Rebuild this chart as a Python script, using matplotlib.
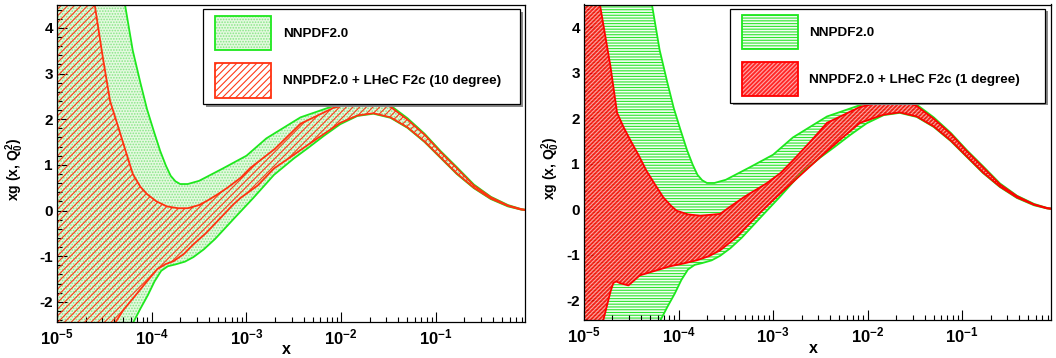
import numpy as np
import matplotlib
matplotlib.use('Agg')
import matplotlib.pyplot as plt
from matplotlib.patches import Rectangle
from matplotlib.ticker import FixedLocator, MultipleLocator, NullFormatter

plt.rcParams['font.family'] = ['Liberation Sans', 'DejaVu Sans']
plt.rcParams['font.weight'] = 'bold'
plt.rcParams['mathtext.fontset'] = 'custom'
plt.rcParams['mathtext.rm'] = 'Liberation Sans:bold'
plt.rcParams['mathtext.it'] = 'Liberation Sans:bold'
plt.rcParams['mathtext.bf'] = 'Liberation Sans:bold'
plt.rcParams['axes.unicode_minus'] = False
plt.rcParams['hatch.linewidth'] = 0.8

# ---------------- data (log10 x, xg) ----------------
gu_lx = [-5.0, -4.6, -4.4, -4.28, -4.20, -4.12, -4.05, -3.98, -3.91, -3.85, -3.80, -3.75, -3.70, -3.62,
         -3.50, -3.25, -3.00, -2.79, -2.43, -2.08, -1.85, -1.65, -1.48, -1.30, -1.12, -0.95, -0.78,
         -0.60, -0.42, -0.24, -0.10, 0.0]
gu_y = [13.0, 8.6, 6.0, 4.48, 3.50, 2.80, 2.22, 1.75, 1.30, 0.98, 0.76, 0.64, 0.58, 0.58,
        0.65, 0.92, 1.20, 1.58, 2.04, 2.29, 2.40, 2.43, 2.30, 2.02, 1.68, 1.30, 0.95,
        0.57, 0.30, 0.12, 0.03, 0.0]

gl_lx = [-5.0, -4.6, -4.4, -4.20, -4.12, -4.04, -3.97, -3.90, -3.83, -3.75, -3.65, -3.56, -3.45, -3.33,
         -3.12, -2.93, -2.71, -2.50, -2.35, -2.18, -2.01, -1.83, -1.66, -1.48, -1.30, -1.12, -0.95,
         -0.78, -0.60, -0.42, -0.24, -0.10, 0.0]
gl_y = [-7.0, -4.6, -3.4, -2.47, -2.15, -1.85, -1.55, -1.32, -1.22, -1.18, -1.12, -1.02, -0.85, -0.62,
        -0.15, 0.27, 0.78, 1.14, 1.37, 1.64, 1.89, 2.07, 2.12, 2.03, 1.81, 1.50, 1.15,
        0.80, 0.49, 0.25, 0.09, 0.02, 0.0]

# NNPDF2.0 + LHeC F2c (10 degree)
r10u_lx = [-5.0, -4.8, -4.60, -4.52, -4.44, -4.33, -4.20, -4.12, -4.05, -3.95, -3.84, -3.72, -3.62,
           -3.50, -3.41, -3.30, -3.20, -3.06, -2.96, -2.70, -2.43, -2.08, -1.85, -1.65, -1.48,
           -1.30, -1.12, -0.95, -0.78, -0.60, -0.42, -0.24, -0.10, 0.0]
r10u_y = [9.5, 7.0, 4.48, 3.40, 2.40, 1.67, 0.80, 0.52, 0.36, 0.20, 0.09, 0.05, 0.05,
          0.12, 0.22, 0.36, 0.50, 0.72, 0.93, 1.35, 1.90, 2.25, 2.36, 2.39, 2.27,
          1.99, 1.66, 1.28, 0.93, 0.55, 0.29, 0.11, 0.03, 0.0]
r10l_lx = [-5.0, -4.6, -4.39, -4.30, -4.20, -4.05, -3.94, -3.85, -3.77, -3.66, -3.56, -3.43, -3.31,
           -3.14, -3.06, -2.88, -2.71, -2.50, -2.35, -2.01, -1.83, -1.66, -1.48, -1.30, -1.12,
           -0.95, -0.78, -0.60, -0.42, -0.24, -0.10, 0.0]
r10l_y = [-4.8, -3.3, -2.47, -2.18, -1.93, -1.55, -1.28, -1.17, -1.11, -0.95, -0.74, -0.50, -0.24,
          0.13, 0.28, 0.55, 0.92, 1.22, 1.44, 1.92, 2.08, 2.13, 2.04, 1.82, 1.51,
          1.16, 0.81, 0.50, 0.26, 0.10, 0.02, 0.0]

# NNPDF2.0 + LHeC F2c (1 degree)
r1u_lx = [-5.0, -4.90, -4.83, -4.72, -4.65, -4.58, -4.51, -4.42, -4.34, -4.25, -4.16, -4.08, -4.02,
          -3.90, -3.77, -3.56, -3.46, -3.30, -3.07, -2.92, -2.77, -2.60, -2.43, -2.08, -1.85,
          -1.65, -1.48, -1.30, -1.12, -0.95, -0.78, -0.60, -0.42, -0.24, -0.10, 0.0]
r1u_y = [7.5, 5.8, 4.48, 3.14, 2.12, 1.80, 1.52, 1.18, 0.85, 0.55, 0.26, 0.08, -0.03,
         -0.11, -0.14, -0.10, 0.05, 0.28, 0.57, 0.80, 1.12, 1.50, 1.90, 2.25, 2.36,
         2.39, 2.27, 1.99, 1.66, 1.28, 0.93, 0.55, 0.29, 0.11, 0.03, 0.0]
r1l_lx = [-5.0, -4.86, -4.80, -4.72, -4.69, -4.66, -4.62, -4.53, -4.41, -4.25, -4.09, -3.95, -3.81,
          -3.68, -3.56, -3.38, -3.14, -2.95, -2.79, -2.50, -2.28, -2.08, -1.83, -1.66, -1.48,
          -1.30, -1.12, -0.95, -0.78, -0.60, -0.42, -0.24, -0.10, 0.0]
r1l_y = [-4.5, -3.3, -2.47, -1.81, -1.62, -1.58, -1.62, -1.67, -1.45, -1.35, -1.25, -1.19, -1.12,
         -1.03, -0.90, -0.60, -0.08, 0.30, 0.60, 1.15, 1.55, 1.90, 2.08, 2.13, 2.04,
         1.82, 1.51, 1.16, 0.81, 0.50, 0.26, 0.10, 0.02, 0.0]

xtick_vals = [1e-5, 1e-4, 1e-3, 1e-2, 1e-1]
xtick_labels = ['$10^{-5}$', '$10^{-4}$', '$10^{-3}$', '$10^{-2}$', '$10^{-1}$']
ytick_vals = [-2, -1, 0, 1, 2, 3, 4]
label_base = 'NNPDF2.0'
label_10 = 'NNPDF2.0 + LHeC F2c (10 degree)'
label_1 = 'NNPDF2.0 + LHeC F2c (1 degree)'

# ---------------- figure ----------------
W, H = 1056, 358
fig = plt.figure(figsize=(W / 100, H / 100), dpi=100)


def frect(px0, py0, px1, py1):
    return [px0 / W, 1 - py1 / H, (px1 - px0) / W, (py1 - py0) / H]


def band(ax, ulx, uy, llx, ly, **kw):
    xs = np.power(10.0, np.concatenate([np.array(ulx), np.array(llx)[::-1]]))
    ys = np.concatenate([np.array(uy), np.array(ly)[::-1]])
    ax.fill(xs, ys, **kw)


def curve(ax, lx, y, **kw):
    ax.plot(np.power(10.0, np.array(lx)), y, solid_joinstyle='round', **kw)


def style(ax, ylab_x):
    ax.set_xscale('log')
    ax.set_xlim(1e-5, 10 ** -0.06)
    ax.set_ylim(-2.43, 4.5)
    ax.xaxis.set_major_locator(FixedLocator(xtick_vals))
    ax.set_xticklabels(xtick_labels, fontsize=12)
    minors = [m * d for d in xtick_vals for m in range(2, 10)]
    ax.xaxis.set_minor_locator(FixedLocator(minors))
    ax.xaxis.set_minor_formatter(NullFormatter())
    ax.yaxis.set_major_locator(FixedLocator(ytick_vals))
    ax.set_yticklabels([str(v) for v in ytick_vals], fontsize=11)
    ax.yaxis.set_minor_locator(MultipleLocator(0.2))
    ax.tick_params(which='both', direction='in', top=False, right=False, zorder=10)
    ax.tick_params(which='major', length=7, width=0.8)
    ax.tick_params(which='minor', length=3.5, width=0.8)
    ax.tick_params(axis='x', which='major', pad=4)
    ax.tick_params(axis='y', which='major', pad=3)
    for s in ax.spines.values():
        s.set_linewidth(0.9)
        s.set_zorder(10)
    ax.set_xlabel('x', fontsize=11.5, fontweight='bold')
    ax.xaxis.set_label_coords(0.49, -0.065)
    ax.set_ylabel('xg (x, $Q_0^2$)', fontsize=10, fontweight='bold')
    ax.yaxis.set_label_coords(ylab_x, 0.48)


def legend(box, entries):
    x0, y0, x1, y1 = box
    fig.add_artist(Rectangle((x0 / W + 3 / W, 1 - (y1 + 3) / H), (x1 - x0) / W, (y1 - y0) / H,
                             transform=fig.transFigure, facecolor='#8a8a8a', edgecolor='none', zorder=20))
    fig.add_artist(Rectangle((x0 / W, 1 - y1 / H), (x1 - x0) / W, (y1 - y0) / H,
                             transform=fig.transFigure, facecolor='white', edgecolor='black',
                             lw=0.9, zorder=21))
    for (hx0, hy0, hx1, hy1), fillkw, lcol, text, tx, ty in entries:
        r = [hx0 / W, 1 - hy1 / H, (hx1 - hx0) / W, (hy1 - hy0) / H]
        fig.add_artist(Rectangle((r[0], r[1]), r[2], r[3], transform=fig.transFigure,
                                 lw=0, zorder=22, **fillkw))
        fig.add_artist(Rectangle((r[0], r[1]), r[2], r[3], transform=fig.transFigure,
                                 fill=False, edgecolor=lcol, lw=1.3, zorder=23))
        fig.text(tx / W, 1 - ty / H, text, fontsize=9.7, fontweight='bold', va='center',
                 ha='left', zorder=24)


# colours / patterns
G_LINE = '#1ee81e'
R10_LINE = '#ff3210'
R1_LINE = '#ff0000'
green_dots = dict(facecolor='#e4f9df', edgecolor='#86e686', hatch='......')
red_hatch = dict(facecolor='none', edgecolor='#ff3b1a', hatch='/////')
green_lines = dict(facecolor='#f2fdf2', edgecolor='#2fe42f', hatch='-' * 6)
red_check = dict(facecolor=(1, 0, 0, 0.85), edgecolor=(1, 1, 1, 0.6), hatch='/' * 8)

# ---------------- left panel ----------------
axL = fig.add_axes(frect(57, 5, 525, 321.5))
band(axL, gu_lx, gu_y, gl_lx, gl_y, lw=0, zorder=1, **green_dots)
band(axL, r10u_lx, r10u_y, r10l_lx, r10l_y, lw=0, zorder=2, **red_hatch)
curve(axL, gu_lx, gu_y, color=G_LINE, lw=1.3, zorder=3)
curve(axL, gl_lx, gl_y, color=G_LINE, lw=1.3, zorder=3)
curve(axL, r10u_lx, r10u_y, color=R10_LINE, lw=1.3, zorder=4)
curve(axL, r10l_lx, r10l_y, color=R10_LINE, lw=1.3, zorder=4)
style(axL, -0.066)

# ---------------- right panel ----------------
axR = fig.add_axes(frect(584, 4.5, 1051, 320))
band(axR, gu_lx, gu_y, gl_lx, gl_y, lw=0, zorder=1, **green_lines)
band(axR, r1u_lx, r1u_y, r1l_lx, r1l_y, lw=0, zorder=2, **red_check)
curve(axR, gu_lx, gu_y, color=G_LINE, lw=1.3, zorder=3)
curve(axR, gl_lx, gl_y, color=G_LINE, lw=1.3, zorder=3)
curve(axR, r1u_lx, r1u_y, color=R1_LINE, lw=1.3, zorder=4)
curve(axR, r1l_lx, r1l_y, color=R1_LINE, lw=1.3, zorder=4)
style(axR, -0.048)

legend((203, 9, 520, 104), [
    ((215, 16, 271, 50), green_dots, G_LINE, label_base, 283, 34),
    ((215, 63, 271, 98), red_hatch, R10_LINE, label_10, 283, 81),
])
legend((730, 8.5, 1045, 102.5), [
    ((742, 15, 798, 49), green_lines, G_LINE, label_base, 809, 33),
    ((742, 62, 798, 96), red_check, R1_LINE, label_1, 809, 80),
])

fig.savefig('out.png', dpi=100)
